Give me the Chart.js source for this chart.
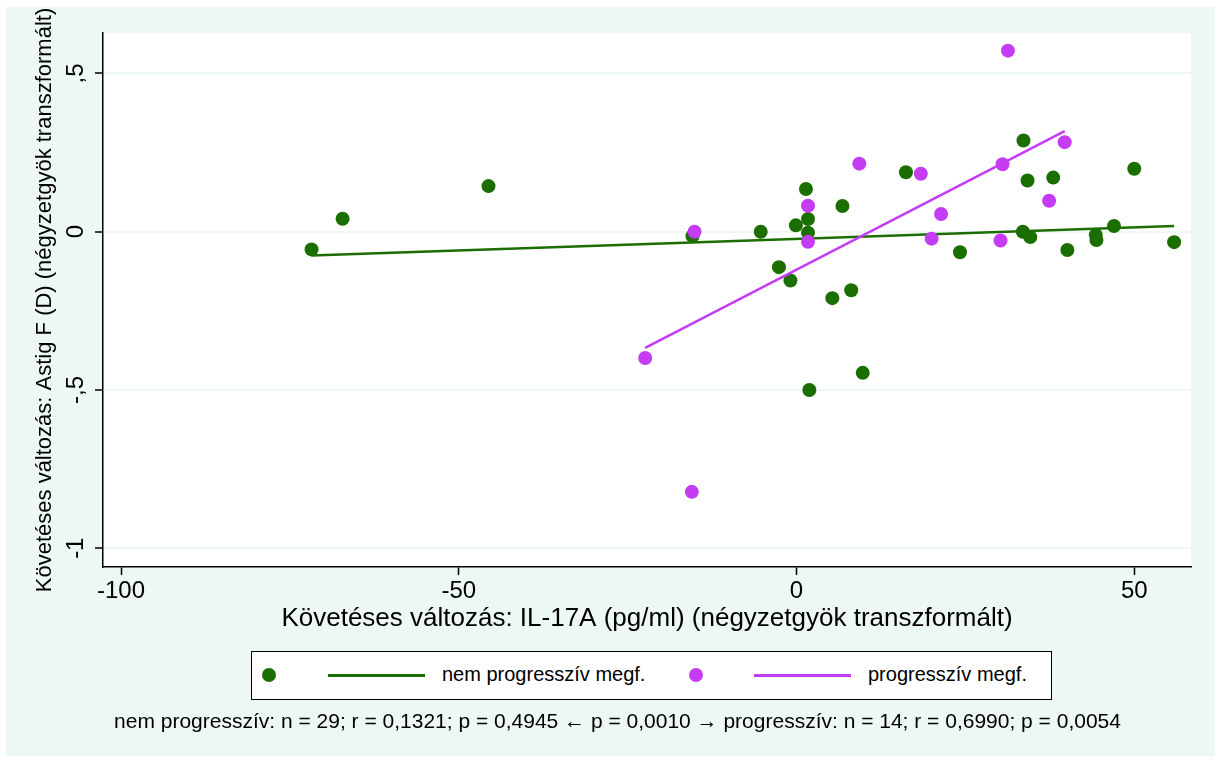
<!DOCTYPE html>
<html lang="hu">
<head>
<meta charset="utf-8">
<title>IL-17A és Astig F követéses változása</title>
<script src="https://cdn.jsdelivr.net/npm/chart.js@4.4.1/dist/chart.umd.min.js"></script>
<style>
  html, body { margin: 0; padding: 0; background: #ffffff; }
  #wrap { position: relative; width: 1221px; height: 762px; overflow: hidden; }
  #chart { position: absolute; left: 0; top: 0; }
  #legend {
    position: absolute; left: 251px; top: 651px; width: 801px; height: 49px;
    box-sizing: border-box; border: 1.5px solid #000; background: #fff;
    font-family: "Liberation Sans", Arial, sans-serif; font-size: 20px; color: #000;
  }
  .dot { position: absolute; top: 16px; width: 14px; height: 14px; border-radius: 50%; }
  .seg { position: absolute; top: 22px; height: 2.5px; }
  .lab { position: absolute; top: 11px; white-space: nowrap; }
  #note {
    position: absolute; left: 0; width: 1235px; top: 709px; text-align: center;
    font-family: "Liberation Sans", Arial, sans-serif; font-size: 21px; color: #000;
    white-space: pre;
  }
</style>
</head>
<body>
<div id="wrap">
  <canvas id="chart" width="1221" height="762"></canvas>
  <div id="legend">
    <div class="dot" style="left:10px;background:#1b6e00"></div>
    <div class="seg" style="left:76px;width:97px;background:#1b6e00"></div>
    <div class="lab" style="left:190px">nem progresszív megf.</div>
    <div class="dot" style="left:437px;background:#c43cf4"></div>
    <div class="seg" style="left:502px;width:97px;background:#c43cf4"></div>
    <div class="lab" style="left:616px">progresszív megf.</div>
  </div>
  <div id="note">nem progresszív: n = 29; r = 0,1321; p = 0,4945 ← p = 0,0010 → progresszív: n = 14; r = 0,6990; p = 0,0054</div>
</div>
<script>
// Follow-up change in IL-17A (square-root transformed) vs. change in Astig F
const nonProgX = [-71.8, -67.2, -45.6, -15.4, -5.3, -0.1, -2.6, -0.9, 1.4, 1.7, 1.7, 1.9, 5.3, 6.8, 8.1, 9.8,
                  16.2, 24.2, 33.6, 33.5, 34.2, 34.6, 38.0, 40.1, 44.3, 44.4, 47.0, 50.0, 55.9];
const nonProgY = [-0.056, 0.041, 0.144, -0.014, 0.0, 0.020, -0.112, -0.154, 0.135, 0.040, -0.003, -0.500, -0.210,
                  0.081, -0.185, -0.446, 0.188, -0.065, 0.288, 0.0, 0.162, -0.017, 0.171, -0.058, -0.010, -0.026,
                  0.018, 0.199, -0.033];
const progX = [-22.4, -15.1, -15.5, 1.7, 1.7, 9.3, 18.4, 20.0, 21.4, 30.2, 30.5, 31.3, 37.4, 39.7];
const progY = [-0.399, 0.0, -0.822, 0.082, -0.032, 0.215, 0.183, -0.022, 0.056, -0.028, 0.213, 0.572, 0.098, 0.283];

// Fitted regression lines (end points)
const nonProgFitX = [-71.8, 55.9];
const nonProgFitY = [-0.075, 0.018];
const progFitX = [-22.4, 39.7];
const progFitY = [-0.367, 0.318];

// Axis ticks
const xTickValues = [-100, -50, 0, 50];
const xTickLabels = ['-100', '-50', '0', '50'];
const yTickValues = [-1, -0.5, 0, 0.5];
const yTickLabels = ['-1', '-,5', '0', ',5'];

const GREEN = '#1b6e00';
const PURPLE = '#c43cf4';
const REGION = '#edf8f4';
const FONT = '"Liberation Sans", Arial, sans-serif';

const toPoints = (xs, ys) => xs.map((x, i) => ({ x, y: ys[i] }));

// Graph region + white plot region, and rotated y tick labels
const frame = {
  id: 'frame',
  beforeDraw(chart) {
    const { ctx, chartArea: a } = chart;
    ctx.save();
    ctx.fillStyle = REGION;
    ctx.fillRect(6, 7, 1209, 749);
    ctx.fillStyle = '#ffffff';
    ctx.fillRect(a.left, a.top, a.right - a.left, a.bottom - a.top);
    ctx.restore();
  },
  afterDraw(chart) {
    const { ctx } = chart;
    const ys = chart.scales.y;
    ctx.save();
    ctx.fillStyle = '#000';
    ctx.font = '24px ' + FONT;
    ctx.textAlign = 'center';
    ctx.textBaseline = 'middle';
    yTickValues.forEach((v, i) => {
      const py = ys.getPixelForValue(v);
      ctx.save();
      ctx.translate(76, py);
      ctx.rotate(-Math.PI / 2);
      ctx.fillText(yTickLabels[i], 0, 0);
      ctx.restore();
    });
    ctx.restore();
  }
};

new Chart(document.getElementById('chart'), {
  type: 'scatter',
  data: {
    datasets: [
      { label: 'nem progresszív megf.', data: toPoints(nonProgX, nonProgY), order: 4,
        backgroundColor: GREEN, borderWidth: 0, pointRadius: 7, pointHoverRadius: 7 },
      { label: 'nem progresszív illesztés', type: 'line', data: toPoints(nonProgFitX, nonProgFitY), order: 3,
        borderColor: GREEN, borderWidth: 2.5, pointRadius: 0, fill: false, tension: 0 },
      { label: 'progresszív megf.', data: toPoints(progX, progY), order: 2,
        backgroundColor: PURPLE, borderWidth: 0, pointRadius: 7, pointHoverRadius: 7 },
      { label: 'progresszív illesztés', type: 'line', data: toPoints(progFitX, progFitY), order: 1,
        borderColor: PURPLE, borderWidth: 2.5, pointRadius: 0, fill: false, tension: 0 }
    ]
  },
  options: {
    responsive: false,
    animation: false,
    events: [],
    layout: { padding: { left: 0, top: 33, right: 30, bottom: 125 } },
    plugins: { legend: { display: false }, tooltip: { enabled: false } },
    scales: {
      x: {
        type: 'linear', min: -102.67, max: 58.4,
        afterBuildTicks: s => { s.ticks = xTickValues.map(v => ({ value: v })); },
        afterFit: s => { s.height = 70; },
        ticks: { callback: (v, i) => xTickLabels[i], color: '#000', font: { family: FONT, size: 24 }, padding: 2, maxRotation: 0 },
        grid: { color: 'rgba(0,0,0,0)', drawTicks: true, tickLength: 8, tickColor: '#000', tickWidth: 1.5 },
        border: { color: '#000', width: 1.5 },
        title: { display: true, text: 'Követéses változás: IL-17A (pg/ml) (négyzetgyök transzformált)',
                 color: '#000', font: { family: FONT, size: 26 }, padding: { top: 0, bottom: 3 } }
      },
      y: {
        type: 'linear', min: -1.0594, max: 0.6278,
        afterBuildTicks: s => { s.ticks = yTickValues.map(v => ({ value: v })); },
        afterFit: s => { s.width = 103; },
        ticks: { callback: (v, i) => yTickLabels[i], color: 'rgba(0,0,0,0)', font: { family: FONT, size: 24 } },
        grid: { color: REGION, lineWidth: 2, drawTicks: true, tickLength: 8, tickColor: '#000', tickWidth: 1.5 },
        border: { color: '#000', width: 1.5 },
        title: { display: true, text: 'Követéses változás: Astig F (D) (négyzetgyök transzformált)',
                 color: '#000', font: { family: FONT, size: 22 }, padding: { top: 32, bottom: 0 } }
      }
    }
  },
  plugins: [frame]
});
</script>
</body>
</html>
